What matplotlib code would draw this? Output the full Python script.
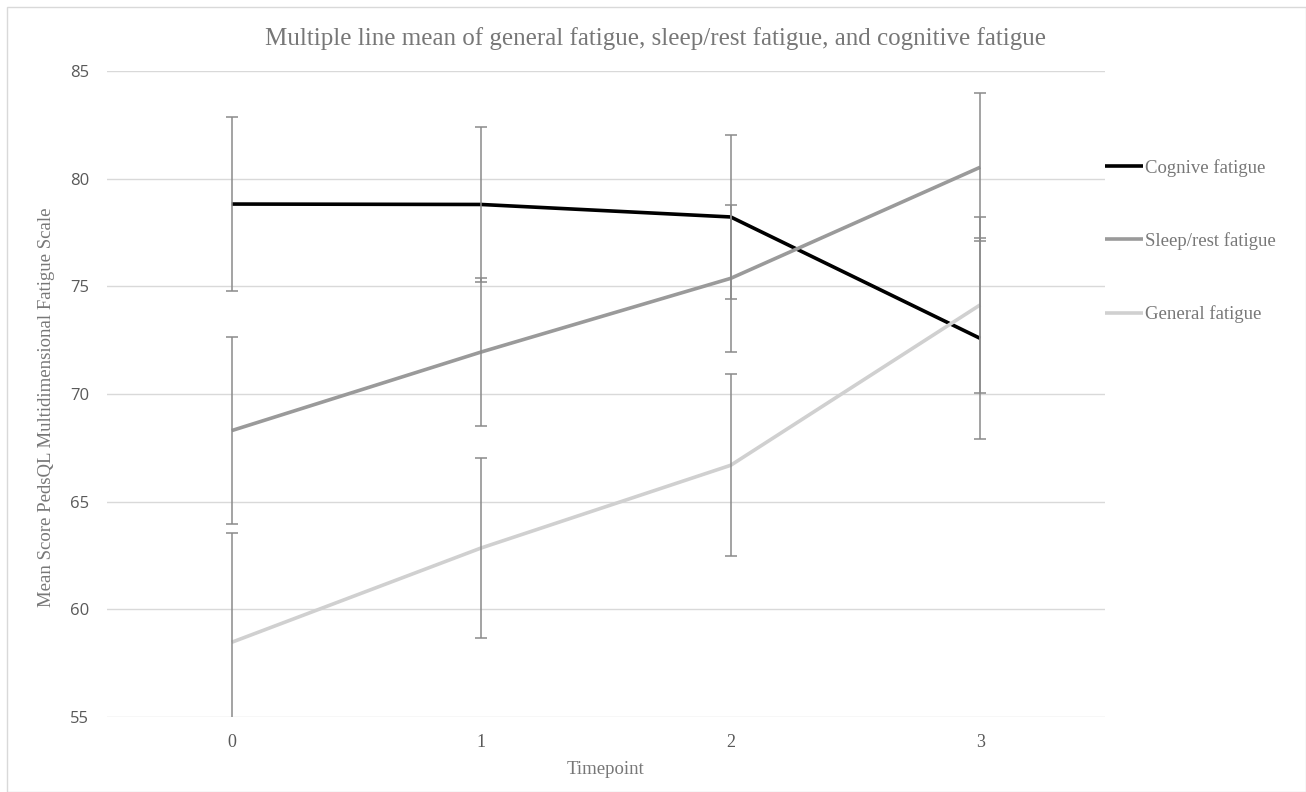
from matplotlib import pyplot as plt
from matplotlib.patches import Rectangle

# data
timepoints = [0, 1, 2, 3]
series_names = ["Cognive fatigue", "Sleep/rest fatigue", "General fatigue"]
cognitive_mean = [78.82, 78.80, 78.22, 72.58]
cognitive_err = [4.05, 3.60, 3.80, 4.65]
sleep_mean = [68.30, 71.95, 75.37, 80.53]
sleep_err = [4.34, 3.45, 3.41, 3.43]
general_mean = [58.47, 62.85, 66.69, 74.14]
general_err = [5.06, 4.18, 4.22, 4.08]
y_ticks = [55, 60, 65, 70, 75, 80, 85]

line_colors = ["#000000", "#9a9a9a", "#d0d0d0"]
err_color = "#8a8a8a"
tick_color = "#595959"
text_color = "#777777"
serif = ["Liberation Serif", "DejaVu Serif"]

fig = plt.figure(figsize=(13.06, 7.92), dpi=100)
ax = fig.add_axes([0.0819, 0.0947, 0.7642, 0.8157])

# light frame around the whole chart
fig.patches.append(Rectangle((0.0054, 0.0), 0.9946, 0.991, transform=fig.transFigure,
                             fill=False, edgecolor="#d9d9d9", linewidth=1))

for name, means, errs, color in zip(
    series_names,
    [cognitive_mean, sleep_mean, general_mean],
    [cognitive_err, sleep_err, general_err],
    line_colors,
):
    ax.errorbar(timepoints, means, yerr=errs, fmt="none", ecolor=err_color,
                elinewidth=1.1, capsize=4, capthick=1.1, zorder=3)
    ax.plot(timepoints, means, color=color, linewidth=2.6, label=name,
            solid_capstyle="butt", zorder=2)

ax.set_xlim(-0.5, 3.5)
ax.set_ylim(55, 85)
ax.set_yticks(y_ticks)
ax.set_xticks(timepoints)
ax.grid(axis="y", color="#d9d9d9", linewidth=1)
ax.set_axisbelow(True)
for side in ["top", "right", "left", "bottom"]:
    ax.spines[side].set_visible(False)
ax.tick_params(length=0)
ax.tick_params(axis="y", pad=13)
ax.tick_params(axis="x", pad=12)
for lbl in ax.get_yticklabels():
    lbl.set_fontfamily(["Open Sans", "DejaVu Sans"])
    lbl.set_fontsize(12)
    lbl.set_color(tick_color)
for lbl in ax.get_xticklabels():
    lbl.set_fontfamily(serif)
    lbl.set_fontsize(13)
    lbl.set_color(tick_color)

ax.set_xlabel("Timepoint", family=serif, fontsize=13.5, color=text_color)
ax.xaxis.set_label_coords(0.5, -0.068)
ax.set_ylabel("Mean Score PedsQL Multidimensional Fatigue Scale", family=serif,
              fontsize=13.5, color=text_color)
ax.yaxis.set_label_coords(-0.052, 0.48)
fig.text(0.502, 0.951, "Multiple line mean of general fatigue, sleep/rest fatigue, and cognitive fatigue",
         family=serif, fontsize=18, color=text_color, ha="center", va="center")

leg = ax.legend(loc="upper left", bbox_to_anchor=(1.0, 0.864), frameon=False,
                borderaxespad=0, borderpad=0,
                handlelength=2.0, handletextpad=0.15, labelspacing=2.95,
                prop={"family": serif, "size": 13.5})
for t in leg.get_texts():
    t.set_color(text_color)

plt.savefig("out.png", dpi=100)
plt.close()
